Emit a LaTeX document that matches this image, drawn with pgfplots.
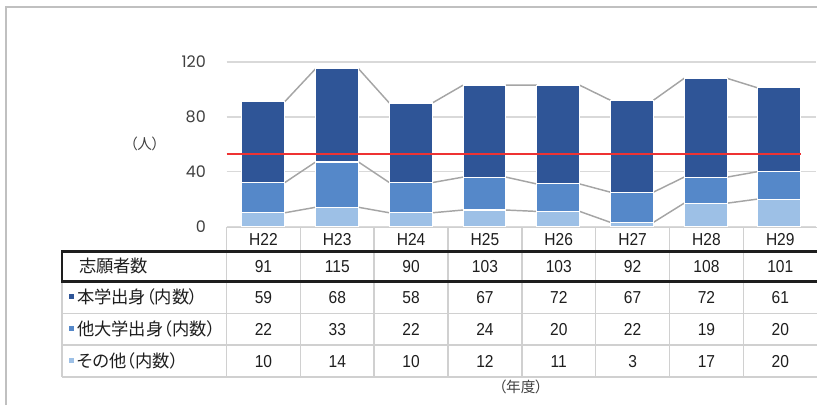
\documentclass[border=0pt]{standalone}
\usepackage{pgfplots}
\pgfplotsset{compat=1.18}
\usepackage{pgfplotstable}
\usepackage{fontspec}
\setmainfont{Liberation Sans}
\newfontfamily\jp[RawFeature=+palt]{Noto Sans CJK JP}
\newfontfamily\numfont[FakeStretch=0.9]{Liberation Sans}
\newfontfamily\tickfont{Poppins}
\definecolor{cTop}{HTML}{2F5597}
\definecolor{cMid}{HTML}{5588C9}
\definecolor{cLow}{HTML}{9DC0E6}
\definecolor{gridc}{HTML}{D9D9D9}
\definecolor{linec}{HTML}{A5A5A5}
\definecolor{tabc}{HTML}{D0D0D0}
\definecolor{txt}{HTML}{1E1E1E}
\definecolor{txtg}{HTML}{404040}
\definecolor{redl}{HTML}{EE3333}
\definecolor{framec}{HTML}{C0C0C0}

\pgfplotstableread{
x other mid top total
0 10 22 59 91
1 14 33 68 115
2 10 22 58 90
3 12 24 67 103
4 11 20 72 103
5 3 22 67 92
6 17 19 72 108
7 20 20 61 101
}\data

\pgfplotsset{base/.style={at={(170.25pt,134.25pt)}, anchor=south west,
  scale only axis, width=443.25pt, height=144.375pt,
  xmin=-0.5, xmax=7.5, ymin=0, ymax=140, clip=false}}

\begin{document}
\begin{tikzpicture}
\begin{scope}[x=0.75pt,y=0.75pt]
\useasboundingbox (0,0) rectangle (817,406);
% outer frame
\draw[framec, line width=1.5pt] (6,0) -- (6,399) -- (830,399);
% table grid
\draw[tabc, line width=1.2pt] (227,178) -- (830,178);
\foreach \r in {92,60,28} \draw[tabc, line width=1.2pt] (62,\r) -- (830,\r);
\draw[tabc, line width=1.2pt] (62,124) -- (62,28);
\foreach \c in {227,301,375,449,523,597,671,745} \draw[tabc, line width=1.2pt] (\c,178) -- (\c,28);
\draw[txt, line width=1.7pt] (840,154) -- (62,154) -- (62,124) -- (840,124);
% header
\foreach \h [count=\i from 0] in {H22,H23,H24,H25,H26,H27,H28,H29}
  \node[font=\numfont\fontsize{13}{15}\selectfont, text=txt] at (264+74*\i,166) {\h};
% rows
\foreach \v [count=\i from 0] in {91,115,90,103,103,92,108,101}
  \node[font=\numfont\fontsize{13}{15}\selectfont, text=txt] at (264+74*\i,139) {\v};
\foreach \v [count=\i from 0] in {59,68,58,67,72,67,72,61}
  \node[font=\numfont\fontsize{13}{15}\selectfont, text=txt] at (264+74*\i,108) {\v};
\foreach \v [count=\i from 0] in {22,33,22,24,20,22,19,20}
  \node[font=\numfont\fontsize{13}{15}\selectfont, text=txt] at (264+74*\i,76) {\v};
\foreach \v [count=\i from 0] in {10,14,10,12,11,3,17,20}
  \node[font=\numfont\fontsize{13}{15}\selectfont, text=txt] at (264+74*\i,44) {\v};
% row labels
\node[font=\jp\fontsize{13}{15}\selectfont, text=txt, anchor=west, inner sep=0pt] at (79,139) {志願者数};
\fill[cTop] (69,111) rectangle (74,106);
\node[font=\jp\fontsize{13}{15}\selectfont, text=txt, anchor=west, inner sep=0pt] at (77,108) {本学出身（内数）};
\fill[cMid] (69,79) rectangle (74,74);
\node[font=\jp\fontsize{13}{15}\selectfont, text=txt, anchor=west, inner sep=0pt] at (77,76) {他大学出身（内数）};
\fill[cLow] (69,47) rectangle (74,42);
\node[font=\jp\fontsize{13}{15}\selectfont, text=txt, anchor=west, inner sep=0pt] at (77,44) {その他（内数）};
% axis titles
\node[font=\jp\fontsize{11}{13}\selectfont, text=txtg] at (145,262) {（人）};
\node[font=\jp\fontsize{11}{13}\selectfont, text=txtg] at (522,18) {（年度）};
\end{scope}

% grid + series lines
\begin{axis}[base, axis line style={draw=none}, xtick=\empty,
  ytick={0,40,80,120}, ymajorgrids, major tick length=0pt,
  grid style={gridc, line width=1.2pt},
  /pgf/number format/assume math mode=true,
  yticklabel style={font=\tickfont\fontsize{12}{14}\selectfont, text=txtg, xshift=-12pt},
  unbounded coords=jump]
\addplot[linec, line width=1.1pt] coordinates {(0.291,10) (0.709,14) (1,nan) (1.291,14) (1.709,10) (2,nan) (2.291,10) (2.709,12) (3,nan) (3.291,12) (3.709,11) (4,nan) (4.291,11) (4.709,3) (5,nan) (5.291,3) (5.709,17) (6,nan) (6.291,17) (6.709,20)};
\addplot[linec, line width=1.1pt] coordinates {(0.291,32) (0.709,47) (1,nan) (1.291,47) (1.709,32) (2,nan) (2.291,32) (2.709,36) (3,nan) (3.291,36) (3.709,31) (4,nan) (4.291,31) (4.709,25) (5,nan) (5.291,25) (5.709,36) (6,nan) (6.291,36) (6.709,40)};
\addplot[linec, line width=1.1pt] coordinates {(0.291,91) (0.709,115) (1,nan) (1.291,115) (1.709,90) (2,nan) (2.291,90) (2.709,103) (3,nan) (3.291,103) (3.709,103) (4,nan) (4.291,103) (4.709,92) (5,nan) (5.291,92) (5.709,108) (6,nan) (6.291,108) (6.709,101)};
\end{axis}

% stacked bars
\begin{axis}[base, hide axis, ybar stacked, bar width=32.25pt]
\addplot[fill=cLow, draw=white, line width=0.8pt] table[x=x,y=other]{\data};
\addplot[fill=cMid, draw=white, line width=0.8pt] table[x=x,y=mid]{\data};
\addplot[fill=cTop, draw=white, line width=0.8pt] table[x=x,y=top]{\data};
\end{axis}

% reference line
\begin{axis}[base, hide axis]
\addplot[redl, line width=1.3pt] coordinates {(-0.5,53) (7.291,53)};
\end{axis}
\end{tikzpicture}
\end{document}
